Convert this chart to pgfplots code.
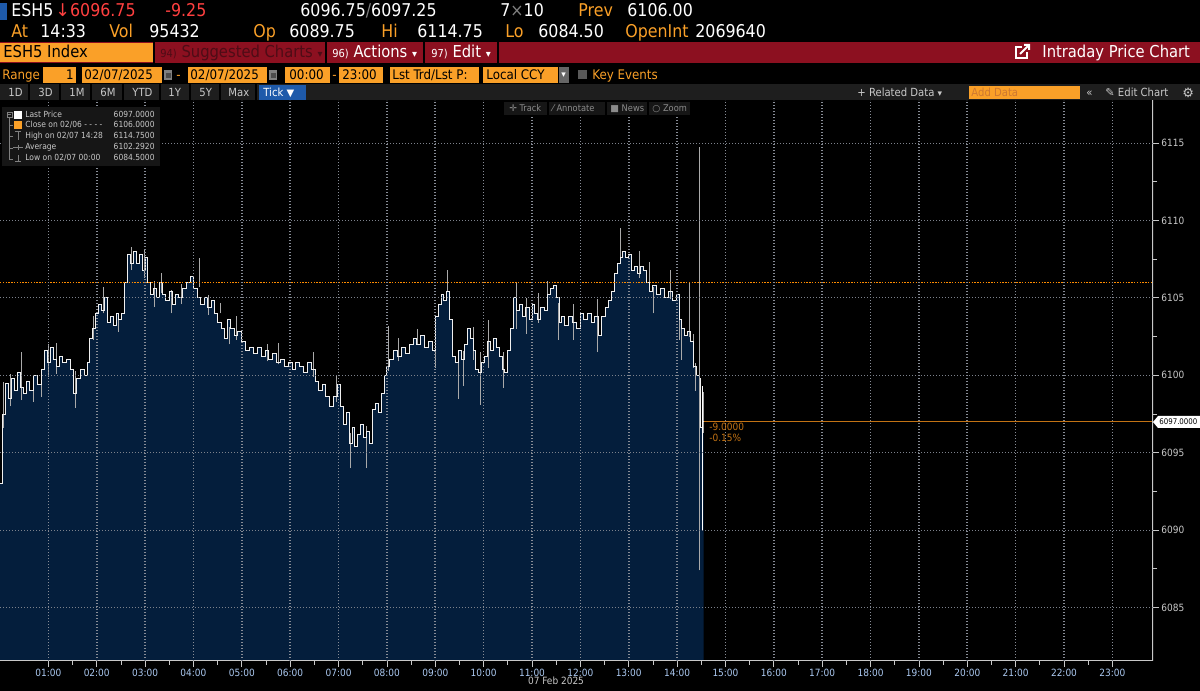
\documentclass[border=0pt]{standalone}
\usepackage{fontspec}
\setmainfont{DejaVu Sans Condensed}
\newfontfamily\sym{DejaVu Sans}
\usepackage{pgfplots}
\pgfplotsset{compat=1.18}
\usepackage{pgfplotstable}

\definecolor{bbred}{RGB}{140,16,32}
\definecolor{bbdim}{RGB}{78,12,22}
\definecolor{bborange}{RGB}{250,160,40}
\definecolor{closeorange}{RGB}{255,140,0}
\definecolor{pxred}{RGB}{255,64,64}
\definecolor{areablue}{RGB}{4,30,60}
\definecolor{gridgray}{RGB}{125,130,140}
\definecolor{tickblue}{RGB}{170,200,240}
\definecolor{barblack}{RGB}{30,30,30}
\definecolor{tickbox}{RGB}{30,90,170}
\definecolor{lastorange}{RGB}{195,115,20}
\definecolor{legbg}{RGB}{22,22,22}
\definecolor{ltgray}{RGB}{200,200,200}
\definecolor{wickgray}{RGB}{170,170,170}

% ESH5 ticks, read off the screenshot (hour of day, price)
\pgfplotstableread{
h p
0.00 6093.0
0.06 6097.5
0.12 6099.5
0.18 6098.5
0.24 6099.8
0.30 6099.0
0.36 6100.2
0.42 6099.2
0.48 6098.8
0.55 6099.6
0.62 6099.0
0.70 6100.0
0.78 6099.4
0.86 6100.4
0.92 6101.6
0.98 6100.8
1.04 6101.8
1.10 6101.0
1.16 6100.6
1.22 6101.2
1.30 6100.8
1.38 6101.0
1.46 6100.4
1.52 6098.8
1.58 6099.8
1.66 6100.4
1.74 6100.0
1.80 6100.8
1.86 6102.4
1.92 6103.0
1.98 6104.0
2.04 6104.6
2.10 6104.2
2.16 6105.0
2.22 6103.4
2.28 6103.8
2.34 6103.2
2.40 6104.0
2.46 6103.6
2.52 6104.0
2.58 6106.0
2.64 6107.8
2.70 6107.2
2.76 6108.0
2.82 6107.2
2.88 6107.8
2.94 6106.8
3.00 6107.6
3.06 6106.0
3.12 6105.2
3.18 6105.6
3.24 6105.0
3.30 6106.0
3.36 6105.2
3.42 6104.8
3.50 6105.4
3.56 6104.6
3.62 6105.2
3.70 6105.0
3.78 6105.6
3.86 6106.0
3.94 6106.4
4.00 6105.6
4.08 6105.0
4.14 6104.6
4.22 6105.0
4.30 6104.4
4.38 6104.8
4.44 6104.0
4.50 6103.4
4.58 6103.0
4.64 6102.4
4.70 6103.6
4.76 6103.0
4.84 6102.6
4.92 6102.8
5.00 6102.2
5.08 6101.6
5.16 6101.8
5.24 6101.4
5.32 6101.8
5.40 6101.2
5.48 6101.6
5.56 6101.0
5.64 6101.4
5.72 6100.8
5.80 6101.0
5.88 6100.6
5.96 6100.8
6.04 6100.4
6.12 6100.8
6.20 6100.6
6.28 6100.2
6.36 6100.8
6.44 6100.4
6.52 6099.6
6.58 6099.0
6.66 6099.4
6.74 6098.6
6.82 6098.0
6.90 6098.6
6.98 6099.4
7.04 6098.0
7.10 6096.8
7.16 6097.6
7.22 6095.6
7.28 6096.6
7.34 6095.4
7.40 6096.2
7.46 6096.8
7.52 6096.0
7.58 6096.4
7.64 6095.6
7.70 6097.8
7.76 6098.2
7.82 6097.6
7.88 6098.8
7.94 6100.0
8.00 6100.6
8.06 6101.0
8.14 6101.6
8.22 6101.2
8.30 6101.8
8.38 6101.4
8.46 6102.0
8.54 6102.4
8.62 6102.0
8.70 6102.6
8.78 6101.8
8.86 6102.2
8.94 6101.6
9.00 6103.8
9.06 6104.6
9.12 6105.2
9.18 6104.8
9.24 6105.4
9.30 6103.6
9.36 6101.2
9.42 6100.8
9.48 6101.6
9.54 6101.0
9.60 6102.0
9.66 6103.0
9.72 6102.4
9.78 6101.6
9.84 6100.4
9.90 6100.2
9.96 6100.8
10.02 6101.2
10.08 6102.2
10.14 6101.6
10.20 6102.4
10.26 6101.8
10.32 6101.2
10.38 6100.4
10.44 6100.2
10.50 6101.6
10.56 6103.0
10.62 6105.0
10.68 6104.2
10.74 6104.6
10.80 6103.8
10.86 6104.4
10.94 6103.6
11.00 6104.6
11.06 6104.0
11.12 6103.6
11.18 6104.4
11.26 6104.2
11.32 6105.2
11.38 6105.6
11.44 6105.8
11.50 6105.0
11.56 6103.4
11.62 6103.8
11.68 6103.2
11.76 6103.8
11.84 6103.4
11.92 6103.0
12.00 6104.0
12.06 6103.6
12.14 6104.0
12.22 6103.4
12.30 6103.8
12.38 6102.6
12.44 6103.8
12.52 6104.4
12.58 6104.8
12.64 6105.4
12.70 6106.6
12.76 6107.2
12.82 6107.6
12.88 6108.0
12.94 6107.6
13.00 6107.8
13.06 6106.8
13.12 6107.0
13.18 6106.6
13.24 6107.0
13.30 6106.8
13.36 6106.0
13.42 6105.4
13.50 6105.8
13.58 6105.2
13.66 6105.6
13.74 6105.0
13.82 6105.4
13.90 6104.8
13.98 6105.2
14.04 6103.6
14.10 6103.0
14.16 6102.6
14.22 6102.8
14.28 6102.2
14.34 6100.6
14.40 6100.0
14.47 6099.8
14.49 6096.6
14.52 6097.0
14.55 6097.0
}\pricedata

% high-low ranges of the taller tick bars (hour, low, high)
\pgfplotstableread{
h lo hi
0.08 6096.6 6099.6
0.21 6098.0 6100.1
0.45 6098.4 6101.5
0.69 6098.3 6099.9
0.86 6098.6 6100.4
1.00 6099.9 6102.0
1.16 6100.1 6102.1
1.57 6097.9 6100.3
1.93 6102.3 6103.8
2.14 6104.0 6105.7
2.45 6102.8 6103.8
2.72 6106.8 6108.3
2.98 6106.3 6108.1
3.20 6104.4 6106.1
3.34 6105.3 6106.6
3.55 6104.0 6105.5
3.76 6104.6 6105.9
4.12 6105.7 6107.6
4.31 6103.9 6105.2
4.55 6104.0 6104.7
4.74 6102.0 6103.1
4.88 6102.3 6103.8
5.53 6100.9 6102.0
5.76 6100.7 6102.1
6.48 6099.9 6101.5
6.95 6098.3 6100.0
7.24 6094.0 6096.3
7.58 6094.0 6096.7
8.03 6100.3 6103.2
8.23 6100.9 6102.4
8.63 6102.0 6103.0
9.00 6100.5 6103.8
9.26 6105.4 6106.8
9.48 6098.5 6101.2
9.59 6099.3 6101.6
9.79 6101.0 6103.1
9.93 6098.1 6101.5
10.10 6100.5 6103.6
10.41 6099.2 6101.5
10.67 6103.0 6106.0
10.89 6102.7 6105.0
11.13 6103.4 6105.3
11.33 6105.0 6106.1
11.54 6102.3 6104.7
11.85 6102.3 6104.6
12.36 6101.5 6104.9
12.84 6107.2 6109.5
13.23 6106.3 6108.0
13.42 6105.7 6107.3
13.51 6104.0 6105.7
13.87 6104.9 6106.8
14.04 6102.3 6105.0
14.10 6101.0 6103.1
14.25 6102.5 6106.0
14.34 6100.5 6102.7
14.39 6099.0 6100.8
14.54 6096.3 6098.9
}\wickdata

\begin{document}
\begin{tikzpicture}[
  h1/.style={anchor=base west, inner sep=0pt, text=white, font=\fontsize{8.8}{10}\selectfont},
  h3/.style={anchor=base west, inner sep=0pt, text=white, font=\fontsize{8.2}{10}\selectfont},
  h4/.style={anchor=base west, inner sep=0pt, text=black, font=\fontsize{6.6}{8}\selectfont},
  h5/.style={anchor=base west, inner sep=0pt, text=ltgray, font=\fontsize{5.6}{7}\selectfont},
  lg/.style={anchor=base west, inner sep=0pt, text=ltgray, font=\fontsize{4.2}{5}\selectfont},
  lgv/.style={anchor=base east, inner sep=0pt, text=ltgray, font=\fontsize{4.2}{5}\selectfont},
]
\fill[black] (0,0) rectangle (600pt,345.5pt);

\begin{axis}[
  at={(0pt,15pt)}, anchor=south west,
  scale only axis, width=576.5pt, height=280.5pt,
  xmin=0, xmax=23.84, ymin=6081.55, ymax=6117.78,
  axis line style={draw=none},
  xtick pos=bottom, ytick pos=right, yticklabel pos=right,
  axis on top,
  xtick={1,...,23},
  xticklabels={01:00,02:00,03:00,04:00,05:00,06:00,07:00,08:00,09:00,10:00,11:00,12:00,13:00,14:00,15:00,16:00,17:00,18:00,19:00,20:00,21:00,22:00,23:00},
  minor x tick num=1,
  ytick={6085,6090,6095,6100,6105,6110,6115},
  minor y tick num=1,
  tick align=outside,
  major tick length=3pt, minor tick length=2pt,
  every tick/.style={draw=ltgray, line width=0.4pt},
  xmajorgrids=true, ymajorgrids=true,
  major grid style={draw=gridgray, line width=0.5pt, dash pattern=on 0.5pt off 1pt},
  x grid style={draw={rgb,255:red,135;green,140;blue,150}, line width=0.8pt, dash pattern=on 0.6pt off 0.9pt},
  xticklabel style={font=\fontsize{5}{6}\selectfont, text=tickblue, inner sep=1pt},
  yticklabel style={font=\fontsize{5}{6}\selectfont, text=ltgray, inner sep=1pt},
  /pgf/number format/assume math mode=true,
  /pgf/number format/1000 sep={},
]
  \addplot[const plot, fill=areablue, draw=none] table[x=h, y=p] {\pricedata} \closedcycle;
  \addplot[draw=none, mark=none, forget plot,
    error bars/.cd, y dir=plus, y explicit, error mark=none,
    error bar style={draw=wickgray, line width=0.5pt, solid}]
    table[x=h, y=lo, y error plus expr=\thisrow{hi}-\thisrow{lo}] {\wickdata};
  \addplot[const plot, color=white!88!gray, line width=0.5pt] table[x=h, y=p] {\pricedata};
  % high spike at 14:28 and the sell-off wick after it
  \addplot[color=wickgray, line width=0.6pt] coordinates {(14.47,6087.4) (14.47,6114.75)};
  \addplot[color=white, line width=0.6pt] coordinates {(14.52,6090.0) (14.52,6099.3)};
  % previous close and last price
  \addplot[color=closeorange, line width=0.7pt, dash pattern=on 0.7pt off 0.7pt] coordinates {(0,6106) (23.84,6106)};
  \addplot[color=lastorange, line width=0.6pt] coordinates {(14.55,6097) (23.84,6097)};
  % bottom and right axis lines
  \draw[ltgray, line width=0.6pt] (rel axis cs:0,0) -- (rel axis cs:1,0) -- (rel axis cs:1,1);
\end{axis}

\begin{scope}[x=0.5pt, y=-0.5pt, shift={(0,345.5pt)}]
  % row 1
  \fill[tickbox] (0,3) rectangle (7,20);
  \node[h1] at (11,17) {ESH5};
  \node[h1, text=pxred] at (55,17) {{\sym ↓}6096.75};
  \node[h1, text=pxred] at (165,17) {-9.25};
  \node[h1] at (300,17) {6096.75{\color{gray}/}6097.25};
  \node[h1] at (500,17) {7{\color{gray}×}10};
  \node[h1, text=bborange] at (578,17) {Prev};
  \node[h1] at (627,17) {6106.00};
  % row 2
  \node[h1, text=bborange] at (11,38) {At};
  \node[h1] at (40,38) {14:33};
  \node[h1, text=bborange] at (109,38) {Vol};
  \node[h1] at (149,38) {95432};
  \node[h1, text=bborange] at (253,38) {Op};
  \node[h1] at (289,38) {6089.75};
  \node[h1, text=bborange] at (381,38) {Hi};
  \node[h1] at (417,38) {6114.75};
  \node[h1, text=bborange] at (505,38) {Lo};
  \node[h1] at (538,38) {6084.50};
  \node[h1, text=bborange] at (625,38) {OpenInt};
  \node[h1] at (695,38) {2069640};
  % row 3
  \fill[bbred] (0,42) rectangle (1200,63);
  \fill[bborange] (0,43) rectangle (153,62);
  \foreach \sx in {154,326,424,498} \draw[black, line width=0.8pt] (\sx,42) -- (\sx,63);
  \node[h3, text=black] at (3,58) {ESH5 Index};
  \node[h3, text=bbdim] at (160,58) {{\fontsize{5.5}{6}\selectfont 94)} Suggested Charts {\sym\fontsize{5}{6}\selectfont ▾}};
  \node[h3] at (332,58) {{\fontsize{5.5}{6}\selectfont 96)} Actions {\sym\fontsize{5}{6}\selectfont ▾}};
  \node[h3] at (431,58) {{\fontsize{5.5}{6}\selectfont 97)} Edit {\sym\fontsize{5}{6}\selectfont ▾}};
  \draw[white, line width=1pt] (1022,47) -- (1016,47) -- (1016,58) -- (1027,58) -- (1027,52);
  \draw[white, line width=1pt] (1020,54) -- (1029,45) (1024,45) -- (1029,45) -- (1029,50);
  \node[h3] at (1042,58) {Intraday Price Chart};
  % row 4
  \node[h4, text=bborange] at (2,80) {Range};
  \foreach \a/\b in {43/76,82/162,188/267,285/330,339/383,390/479,483/558}
    \fill[bborange] (\a,67) rectangle (\b,83);
  \node[h4, anchor=base east] at (74,80) {1};
  \node[h4] at (84,80) {02/07/2025};
  \node[h4] at (190,80) {02/07/2025};
  \node[h4] at (289,80) {00:00};
  \node[h4] at (342,80) {23:00};
  \node[h4] at (392,80) {Lst Trd/Lst P:};
  \node[h4] at (486,80) {Local CCY};
  \foreach \a in {164,269} {
    \fill[gray] (\a,70) rectangle ++(8,10);
    \fill[black!70] (\a+1.5,73) rectangle ++(5,5.5);
  }
  \node[h4, text=bborange] at (176,80) {-};
  \node[h4, text=bborange] at (332,80) {-};
  \fill[gray!80!black] (559,67) rectangle (569,83);
  \node[h4, text=white, font=\sym\fontsize{4.5}{5}\selectfont] at (561,78) {▾};
  \fill[gray!70!black] (578,70) rectangle (587,79);
  \node[h4, text=bborange] at (592,80) {Key Events};
  % row 5
  \fill[barblack] (0,84) rectangle (1200,100);
  \foreach \sx in {29,60,91,123,160,190,220,256} \draw[black, line width=0.6pt] (\sx,84) -- (\sx,100);
  \node[h5] at (8,97) {1D};
  \node[h5] at (38,97) {3D};
  \node[h5] at (69,97) {1M};
  \node[h5] at (100,97) {6M};
  \node[h5] at (132,97) {YTD};
  \node[h5] at (168,97) {1Y};
  \node[h5] at (199,97) {5Y};
  \node[h5] at (228,97) {Max};
  \fill[tickbox] (259,85) rectangle (306,100);
  \node[h5, text=white] at (263,97) {Tick {\sym\fontsize{5}{6}\selectfont ▼}};
  \node[h5] at (857,97) {+ Related Data {\sym\fontsize{4.5}{5}\selectfont ▾}};
  \fill[bborange] (969,86) rectangle (1080,99);
  \node[h5, text={rgb,255:red,205;green,120;blue,50}] at (971,97) {Add Data};
  \node[h5] at (1086,97) {«};
  \node[h5] at (1105,97) {{\sym ✎} Edit Chart};
  \node[h5, font=\sym\fontsize{6.5}{7}\selectfont] at (1182,97.5) {⚙};
  % chart toolbar
  \fill[legbg] (504,102) rectangle (690,115);
  \foreach \sx in {548,606,648} \draw[black, line width=0.6pt] (\sx,102) -- (\sx,115);
  \node[lg, text=gray!90!white, font=\fontsize{4.6}{5}\selectfont] at (509,112) {{\sym ✛} Track};
  \node[lg, text=gray!90!white, font=\fontsize{4.6}{5}\selectfont] at (552,112) {{\sym ⁄} Annotate};
  \node[lg, text=gray!90!white, font=\fontsize{4.6}{5}\selectfont] at (610,112) {{\sym ■} News};
  \node[lg, text=gray!90!white, font=\fontsize{4.6}{5}\selectfont] at (652,112) {{\sym ○} Zoom};
  % legend box
  \fill[legbg] (2,107) rectangle (160,166);
  \draw[gray, line width=0.4pt] (7,112) rectangle (12,117) (8,114.5) -- (11,114.5);
  \draw[gray, line width=0.4pt] (9.5,117) -- (9.5,159) -- (13,159);
  \foreach \yy in {125,136,148} \draw[gray, line width=0.4pt] (9.5,\yy) -- (13,\yy);
  \fill[white] (14,111) rectangle (22,119);
  \fill[bborange] (14,121) rectangle (22,129);
  \draw[gray, line width=0.5pt] (15,132) -- (21,132) (18,132) -- (18,140);
  \draw[gray, line width=0.5pt] (13,148) -- (23,148) (18,145.5) -- (18,150.5);
  \draw[gray, line width=0.5pt] (18,155) -- (18,162) (15,162) -- (21,162);
  \node[lg] at (25,118) {Last Price};
  \node[lg] at (25,128) {Close on 02/06 - - - -};
  \node[lg] at (25,139) {High on 02/07 14:28};
  \node[lg] at (25,150) {Average};
  \node[lg] at (25,161) {Low on 02/07 00:00};
  \node[lgv] at (155,118) {6097.0000};
  \node[lgv] at (155,128) {6106.0000};
  \node[lgv] at (155,139) {6114.7500};
  \node[lgv] at (155,150) {6102.2920};
  \node[lgv] at (155,161) {6084.5000};
  % last price tag and change
  \fill[white] (1153,422) -- (1158,416) -- (1200,416) -- (1200,428) -- (1158,428) -- cycle;
  \node[lg, text=black, font=\fontsize{3.9}{5}\selectfont] at (1159,424.5) {6097.0000};
  \node[lg, text=lastorange, font=\fontsize{5}{6}\selectfont] at (709,431) {-9.0000};
  \node[lg, text=lastorange, font=\fontsize{5}{6}\selectfont] at (709,442) {-0.15\%};
  % date under the time axis
  \node[anchor=base, inner sep=0pt, text=ltgray, font=\fontsize{5}{6}\selectfont] at (556,685) {07 Feb 2025};
\end{scope}
\pgfresetboundingbox
\path[use as bounding box] (0,0) rectangle (600pt,345.5pt);
\end{tikzpicture}
\end{document}
